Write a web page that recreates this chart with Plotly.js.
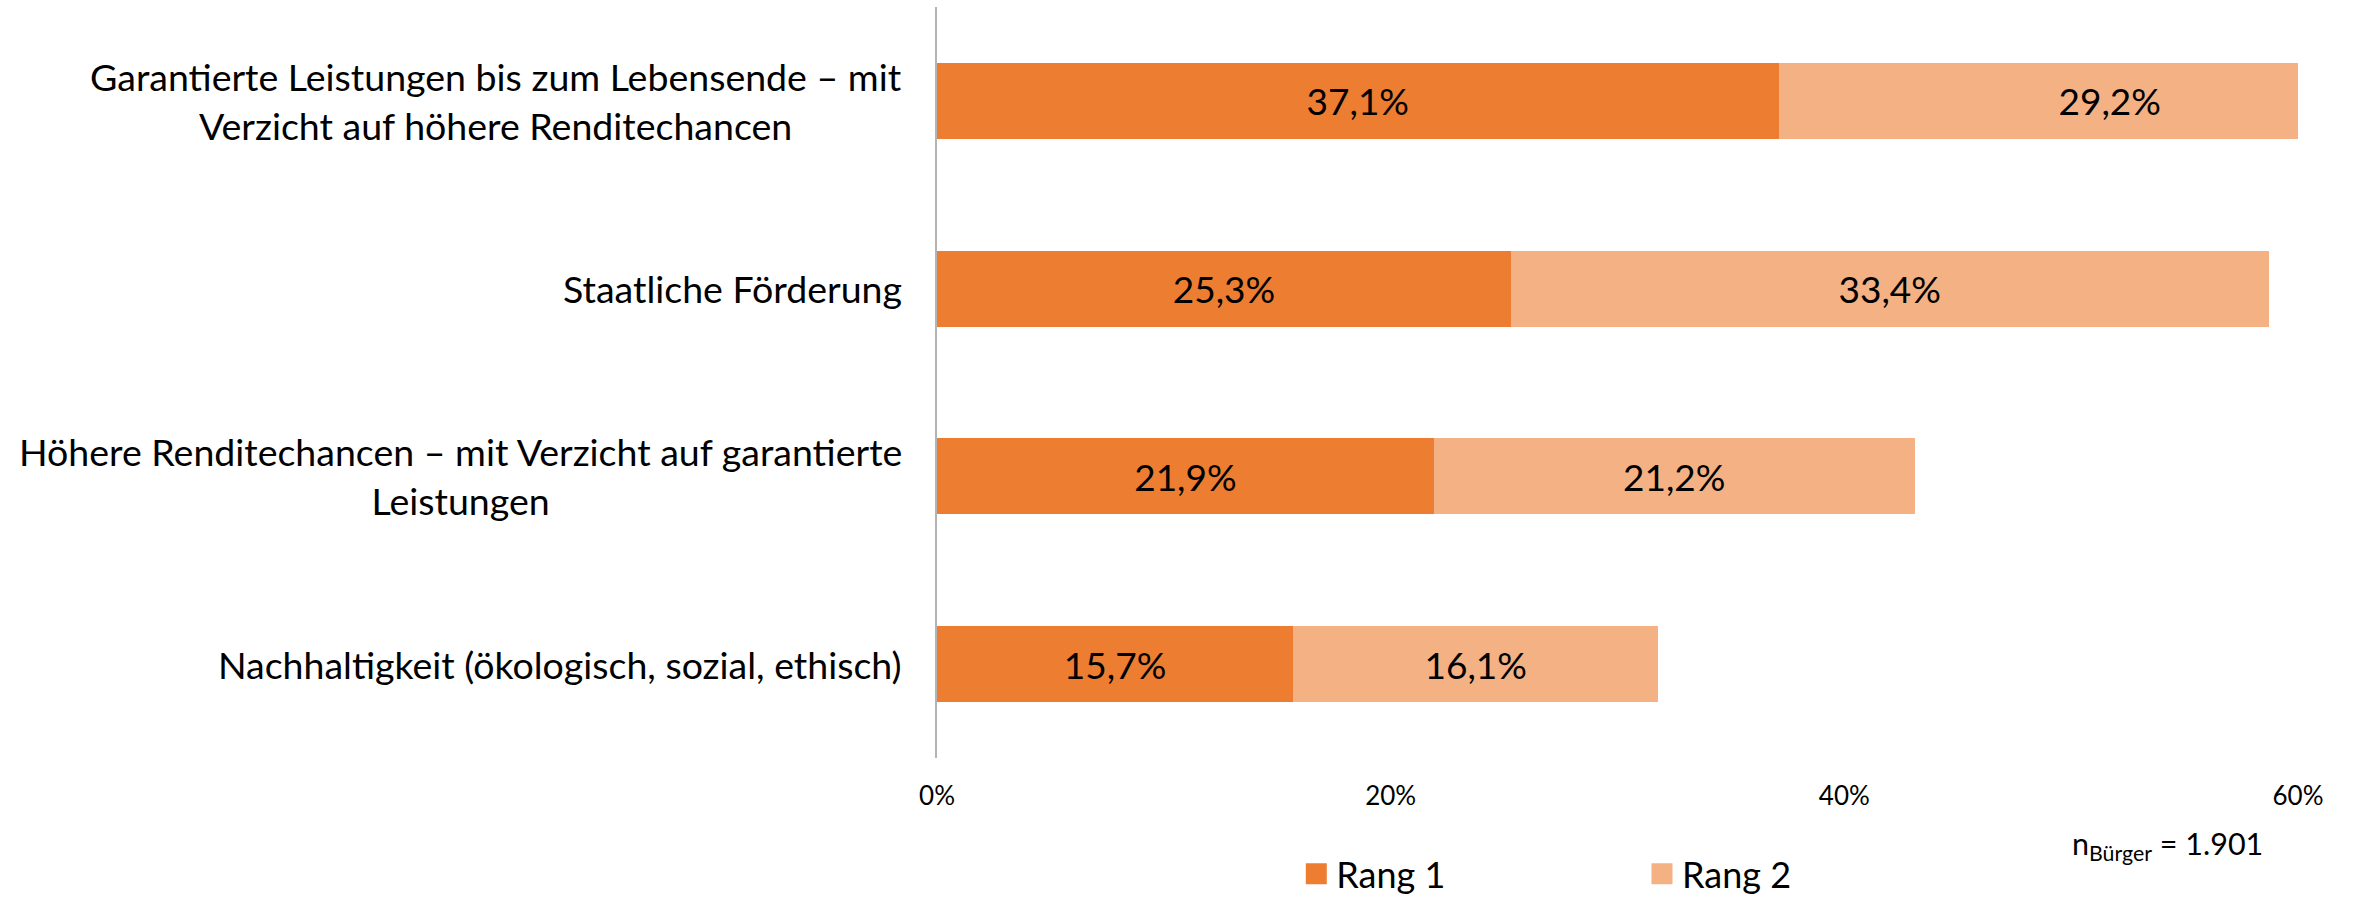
<!DOCTYPE html>
<html>
<head>
<meta charset="utf-8">
<script src="https://cdn.plot.ly/plotly-3.0.1.min.js"></script>
<style>
  html, body { margin: 0; padding: 0; background: #ffffff; }
  #chart { width: 2354px; height: 897px; }
</style>
</head>
<body>
<div id="chart"></div>
<script>
// ---- data ----
const categories = [
  "Garantierte Leistungen bis zum Lebensende – mit<br>Verzicht auf höhere Renditechancen",
  "Staatliche Förderung",
  "Höhere Renditechancen – mit Verzicht auf garantierte<br>Leistungen",
  "Nachhaltigkeit (ökologisch, sozial, ethisch)"
];
const seriesNames = ["Rang 1", "Rang 2"];
const rang1 = [37.1, 25.3, 21.9, 15.7];
const rang2 = [29.2, 33.4, 21.2, 16.1];
const xTickVals = [0, 20, 40, 60];
const xTickText = ["0%", "20%", "40%", "60%"];
const sampleNote = "n<sub>Bürger</sub> = 1.901";

// ---- styles ----
const FONT = "Lato, 'Open Sans', sans-serif";
const colors = ["#ED7D31", "#F4B183"];

function barTrace(vals, name, color) {
  return {
    type: "bar",
    orientation: "h",
    name: name,
    y: categories,
    x: vals,
    marker: { color: color, line: { width: 0 } },
    width: 0.405,
    texttemplate: "%{x:.1f}%",
    textposition: "inside",
    insidetextanchor: "middle",
    constraintext: "none",
    textfont: { family: FONT, size: 37, color: "#000000" },
    showlegend: false,
    hoverinfo: "skip",
    cliponaxis: true
  };
}

function legendTrace(name, color, legendId) {
  return {
    type: "scatter",
    mode: "markers",
    name: name,
    x: [null],
    y: [null],
    marker: { symbol: "square", size: 16, color: color, line: { color: color, width: 5 } },
    showlegend: true,
    legend: legendId,
    hoverinfo: "skip"
  };
}

const data = [
  barTrace(rang1, seriesNames[0], colors[0]),
  barTrace(rang2, seriesNames[1], colors[1]),
  legendTrace(seriesNames[0], colors[0], "legend"),
  legendTrace(seriesNames[1], colors[1], "legend2")
];

const annotations = categories.map(c => ({
  x: 0, xref: "paper",
  y: c, yref: "y",
  xanchor: "right", yanchor: "middle",
  xshift: -33,
  align: "center",
  text: c,
  showarrow: false,
  font: { family: FONT, size: 37.5, color: "#000000" }
}));
annotations.push({
  x: 0.976, xref: "paper",
  y: -0.116, yref: "paper",
  xanchor: "right", yanchor: "middle",
  text: sampleNote,
  showarrow: false,
  font: { family: FONT, size: 30.5, color: "#000000" }
});

const legendCommon = {
  orientation: "h",
  yref: "container",
  yanchor: "middle",
  y: 0.0257,
  xanchor: "left",
  font: { family: FONT, size: 36, color: "#000000" },
  itemsizing: "trace",
  bgcolor: "rgba(0,0,0,0)",
  borderwidth: 0
};

const layout = {
  width: 2354,
  height: 897,
  margin: { l: 937, r: 56, t: 7, b: 139, pad: 0, autoexpand: false },
  paper_bgcolor: "#ffffff",
  plot_bgcolor: "#ffffff",
  barmode: "stack",
  separators: ",.",
  font: { family: FONT, color: "#000000" },
  xaxis: {
    range: [0, 60],
    tickmode: "array",
    tickvals: xTickVals,
    ticktext: xTickText,
    showgrid: false,
    zeroline: false,
    showline: false,
    ticks: "",
    ticklabelstandoff: 20,
    automargin: false,
    tickfont: { family: FONT, size: 26, color: "#000000" },
    fixedrange: true
  },
  yaxis: {
    type: "category",
    autorange: "reversed",
    showticklabels: false,
    showgrid: false,
    zeroline: false,
    showline: true,
    linecolor: "#B4B4B4",
    linewidth: 2,
    ticks: "",
    automargin: false,
    fixedrange: true
  },
  legend: Object.assign({}, legendCommon, { x: 0.264 }),
  legend2: Object.assign({}, legendCommon, { x: 0.518 }),
  annotations: annotations
};

Plotly.newPlot("chart", data, layout, { displayModeBar: false, staticPlot: true });
</script>
</body>
</html>
